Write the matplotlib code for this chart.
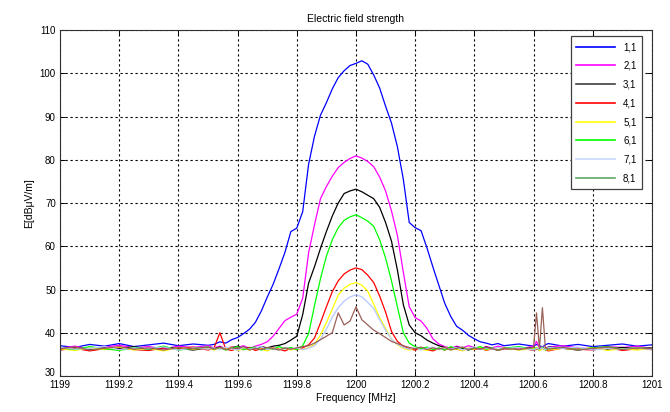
import matplotlib
matplotlib.use("Agg")
import matplotlib.pyplot as plt
import matplotlib.transforms as mtransforms
from matplotlib.lines import Line2D
from matplotlib.ticker import FormatStrFormatter

plt.rcParams['font.family'] = ['Liberation Sans', 'DejaVu Sans']

freq = [1199.00, 1199.05, 1199.10, 1199.15, 1199.20, 1199.25, 1199.30, 1199.35, 1199.40, 1199.45, 1199.50,
        1199.52, 1199.54, 1199.56, 1199.58, 1199.60, 1199.62, 1199.64, 1199.66, 1199.68, 1199.70,
        1199.72, 1199.74, 1199.76, 1199.78, 1199.80, 1199.82, 1199.84, 1199.86, 1199.88, 1199.90,
        1199.92, 1199.94, 1199.96, 1199.98, 1200.00, 1200.02, 1200.04, 1200.06, 1200.08, 1200.10,
        1200.12, 1200.14, 1200.16, 1200.18, 1200.20, 1200.22, 1200.24, 1200.26, 1200.28, 1200.30,
        1200.32, 1200.34, 1200.36, 1200.38, 1200.40, 1200.42, 1200.44, 1200.46, 1200.48,
        1200.50, 1200.55, 1200.60, 1200.61, 1200.62, 1200.63, 1200.64, 1200.65, 1200.70, 1200.75,
        1200.80, 1200.85, 1200.90, 1200.95, 1201.00]

s11 = [37.0, 36.6, 37.3, 36.9, 37.5, 36.8, 37.2, 37.6, 37.0, 37.4, 37.1,
       37.3, 37.9, 37.6, 38.4, 38.9, 39.8, 40.8, 42.4, 45.0, 48.2,
       51.2, 54.8, 58.6, 63.4, 64.2, 68.0, 79.0, 85.5, 90.3, 93.2,
       96.4, 99.0, 100.6, 101.8, 102.3, 102.9, 102.1, 99.6, 96.6, 92.4,
       88.5, 83.0, 75.5, 65.5, 64.3, 63.6, 59.6, 55.2, 51.0, 46.8,
       43.8, 41.5, 40.6, 39.4, 38.6, 37.9, 37.6, 37.2, 37.5,
       37.0, 37.4, 36.9, 37.3, 37.0, 36.7, 37.2, 37.5, 36.9, 37.3,
       36.8, 37.1, 37.4, 36.9, 37.2]

s21 = [36.4, 36.9, 36.2, 36.7, 37.1, 36.5, 36.8, 36.3, 36.9, 36.6, 37.0,
       36.5, 36.9, 36.3, 36.8, 36.6, 37.0, 36.4, 36.9, 37.3, 37.9,
       39.2, 41.0, 42.8, 43.6, 44.3, 48.0, 58.5, 65.0, 71.0, 73.8,
       76.2, 78.2, 79.4, 80.3, 80.9, 80.4, 79.6, 78.4, 76.0, 72.8,
       68.2, 62.5, 54.0, 46.0, 43.5, 42.7, 41.0, 38.6, 37.4, 36.8,
       36.4, 36.9, 36.5, 37.0, 36.6, 36.3, 36.8, 36.5, 36.9,
       36.6, 36.2, 36.9, 38.0, 36.5, 36.8, 36.4, 36.7, 37.0, 36.5,
       36.3, 36.8, 36.6, 36.9, 36.4]

s31 = [36.2, 36.6, 36.0, 36.5, 36.3, 36.8, 36.1, 36.6, 36.4, 36.0, 36.5,
       36.3, 36.7, 36.1, 36.5, 36.9, 36.2, 36.6, 36.3, 36.8, 36.5,
       36.9, 37.1, 37.5, 38.3, 39.2, 44.2, 51.5, 55.3, 59.5, 63.4,
       67.0, 70.0, 72.2, 72.8, 73.2, 72.6, 71.8, 71.0, 69.0, 65.5,
       61.2, 54.5, 46.5, 41.8, 40.0, 39.3, 38.3, 37.6, 37.0, 36.6,
       36.2, 36.7, 36.4, 36.0, 36.5, 36.2, 36.7, 36.3, 36.0,
       36.4, 36.1, 36.6, 36.3, 36.0, 36.5, 36.2, 36.7, 36.4, 36.0,
       36.5, 36.2, 36.6, 36.3, 36.5]

s41 = [36.0, 36.4, 35.8, 36.3, 36.6, 36.1, 35.9, 36.5, 36.2, 36.7, 36.0,
       36.4, 40.0, 36.2, 35.9, 36.4, 36.1, 36.6, 35.9, 36.3, 36.0,
       36.5, 36.2, 35.8, 36.4, 36.1, 36.5, 37.2, 38.8, 42.3, 46.0,
       49.5, 52.0, 53.6, 54.5, 55.0, 54.6, 53.3, 51.6, 48.5, 44.8,
       40.3, 38.0, 36.9, 36.3, 36.0, 36.5, 36.1, 35.8, 36.4, 36.0,
       36.6, 36.2, 35.9, 36.4, 36.1, 36.5, 35.9, 36.3, 36.0,
       36.2, 36.6, 35.9, 36.3, 36.0, 36.4, 36.1, 35.8, 36.5, 36.2,
       36.0, 36.6, 35.9, 36.3, 36.1]

s51 = [36.3, 35.9, 36.5, 36.1, 36.7, 36.0, 36.4, 35.8, 36.6, 36.2, 36.5,
       36.0, 36.5, 36.2, 36.7, 35.9, 36.3, 36.0, 36.6, 36.2, 35.8,
       36.4, 36.1, 36.6, 36.0, 36.3, 36.1, 36.5, 37.3, 39.5, 42.3,
       45.5, 48.7, 50.3, 51.2, 51.6, 51.0, 49.6, 46.6, 43.5, 41.0,
       38.5, 37.2, 36.4, 36.0, 36.5, 36.2, 35.9, 36.5, 36.1, 36.6,
       36.0, 36.3, 35.8, 36.5, 36.2, 36.7, 36.0, 36.4, 36.1,
       36.5, 36.0, 36.3, 36.6, 35.9, 36.2, 36.5, 36.0, 36.4, 36.1,
       36.6, 35.9, 36.3, 36.0, 36.4]

s61 = [36.5, 36.1, 36.8, 36.3, 35.9, 36.6, 36.2, 36.9, 36.0, 36.4, 36.7,
       36.2, 36.6, 36.0, 36.5, 36.8, 36.1, 36.4, 36.7, 36.0, 36.5,
       36.2, 36.8, 36.3, 36.6, 36.1, 37.0, 39.8, 46.3, 52.5, 57.7,
       61.5, 64.3, 66.0, 66.8, 67.3, 66.6, 65.8, 64.6, 61.5, 57.3,
       52.0, 46.0, 40.0, 37.6, 36.8, 36.3, 36.7, 36.1, 36.5, 36.0,
       36.8, 36.3, 36.6, 36.1, 36.4, 36.8, 36.2, 36.5, 36.0,
       36.4, 36.8, 36.1, 36.5, 36.2, 36.7, 36.0, 36.4, 36.6, 36.1,
       36.5, 36.8, 36.2, 36.6, 36.3]

s71 = [36.6, 36.2, 36.4, 36.8, 36.1, 36.5, 36.3, 36.7, 36.0, 36.5, 36.2,
       36.5, 36.1, 36.7, 36.3, 36.0, 36.6, 36.2, 36.5, 36.8, 36.1,
       36.4, 36.0, 36.6, 36.2, 36.5, 36.1, 36.4, 37.0, 38.5, 40.8,
       43.6, 45.8, 47.3, 48.3, 48.8, 48.3, 47.0, 45.6, 43.0, 40.6,
       38.5, 37.3, 36.6, 36.2, 36.5, 36.0, 36.4, 36.7, 36.1, 36.5,
       36.2, 36.6, 36.0, 36.4, 36.7, 36.1, 36.5, 36.2, 36.6,
       36.3, 36.6, 36.0, 36.4, 36.2, 36.5, 36.1, 36.6, 36.3, 36.7,
       36.0, 36.4, 36.2, 36.5, 36.1]

s81 = [36.3, 36.7, 36.0, 36.4, 36.8, 36.2, 36.5, 36.0, 36.6, 36.3, 36.7,
       36.2, 36.6, 36.1, 36.5, 36.3, 36.8, 36.0, 36.4, 36.1, 36.6,
       36.3, 36.0, 36.5, 36.2, 36.5, 36.8, 37.0, 37.6, 38.4, 39.2,
       40.0, 44.6, 41.8, 42.7, 46.0, 43.0, 41.8, 40.6, 39.8, 38.9,
       38.0, 37.5, 37.0, 36.6, 36.3, 36.7, 36.1, 36.5, 36.2, 36.6,
       36.0, 36.4, 36.7, 36.1, 36.5, 36.2, 36.6, 36.3, 36.0,
       36.4, 36.1, 36.6, 44.6, 36.3, 45.8, 36.5, 36.2, 36.6, 36.0,
       36.4, 36.7, 36.1, 36.5, 36.3]

labels = ['1,1', '2,1', '3,1', '4,1', '5,1', '6,1', '7,1', '8,1']
series = [s11, s21, s31, s41, s51, s61, s71, s81]
line_colors = ['#0000ff', '#ff00ff', '#000000', '#ff0000', '#ffff00', '#00ff00', '#b4c8ff', '#9a6058']
legend_colors = ['#0000ff', '#ff00ff', '#404040', '#ff0000', '#ffff00', '#00ff00', '#c8d8ff', '#60a860']

xticks = [1199, 1199.2, 1199.4, 1199.6, 1199.8, 1200, 1200.2, 1200.4, 1200.6, 1200.8, 1201]
yticks = [30, 40, 50, 60, 70, 80, 90, 100, 110]

fig = plt.figure(figsize=(6.7, 4.12), dpi=100)
ax = fig.add_axes([0.0896, 0.0874, 0.8834, 0.8396])

for s, c in zip(series, line_colors):
    assert len(s) == len(freq)
    ax.plot(freq, s, color=c, lw=0.9)

ax.set_xlim(1199, 1201)
ax.set_ylim(30, 110)
ax.set_xticks(xticks)
ax.set_yticks(yticks)
ax.xaxis.set_major_formatter(FormatStrFormatter('%g'))
ax.grid(True, color='black', linestyle=(0, (2, 2.5)), lw=0.8)
ax.tick_params(direction='in', top=True, right=True, labelsize=7, length=3.5, width=0.7, pad=3)
for sp in ax.spines.values():
    sp.set_linewidth(0.8)
    sp.set_color('#303030')

# lift the lowest y tick label so it does not collide with the first x tick label
fig.canvas.draw()
lab30 = ax.get_yticklabels()[0]
lab30.set_transform(lab30.get_transform() + mtransforms.ScaledTranslation(0, 4 / 100, fig.dpi_scale_trans))

ax.set_title('Electric field strength', fontsize=7.5, pad=6)
ax.set_xlabel('Frequency [MHz]', fontsize=7.5, labelpad=2)
ax.set_ylabel('E[dBμV/m]', fontsize=7.5, labelpad=4)

handles = [Line2D([0], [0], color=c, lw=1.2) for c in legend_colors]
leg = ax.legend(handles, labels, loc='upper right', bbox_to_anchor=(0.984, 0.982),
                fontsize=7, handlelength=4.0, labelspacing=0.9, borderpad=0.6,
                handletextpad=0.8, fancybox=False, framealpha=1, borderaxespad=0)
leg.get_frame().set_edgecolor('#404040')
leg.get_frame().set_linewidth(0.9)

fig.savefig('out.png', dpi=100)
